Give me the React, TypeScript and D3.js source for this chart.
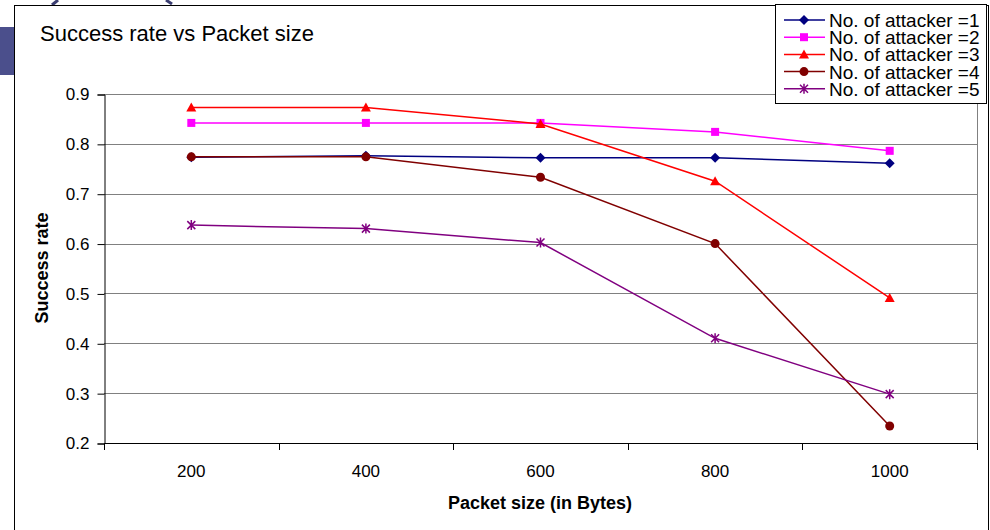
import React, { useEffect, useRef } from "react";
import * as d3 from "d3";

// packet sizes (bytes) and success rate per number of attackers
const packetSizes = ["200", "400", "600", "800", "1000"];
const seriesNames = [
  "No. of attacker =1",
  "No. of attacker =2",
  "No. of attacker =3",
  "No. of attacker =4",
  "No. of attacker =5",
];
const attacker1 = [0.773, 0.776, 0.772, 0.772, 0.761];
const attacker2 = [0.842, 0.842, 0.842, 0.824, 0.786];
const attacker3 = [0.873, 0.873, 0.84, 0.725, 0.491];
const attacker4 = [0.774, 0.774, 0.733, 0.6, 0.234];
const attacker5 = [0.637, 0.63, 0.602, 0.41, 0.298];
const yTicks = [0.2, 0.3, 0.4, 0.5, 0.6, 0.7, 0.8, 0.9];

const colors = ["#000080", "#FF00FF", "#FF0000", "#800000", "#800080"];
const markers = ["diamond", "square", "triangle", "circle", "star"];
const FONT = "'Liberation Sans', Arial, sans-serif";

function drawMarker(g: any, type: string, x: number, y: number, color: string) {
  if (type === "diamond") {
    g.append("path").attr("d", `M${x},${y - 5}L${x + 5},${y}L${x},${y + 5}L${x - 5},${y}Z`).attr("fill", color);
  } else if (type === "square") {
    g.append("rect").attr("x", x - 4).attr("y", y - 4).attr("width", 8).attr("height", 8).attr("fill", color);
  } else if (type === "triangle") {
    g.append("path").attr("d", `M${x},${y - 5}L${x + 5},${y + 4}L${x - 5},${y + 4}Z`).attr("fill", color);
  } else if (type === "circle") {
    g.append("circle").attr("cx", x).attr("cy", y).attr("r", 4.5).attr("fill", color);
  } else {
    g.append("path")
      .attr("d", `M${x - 4},${y - 4}L${x + 4},${y + 4}M${x - 4},${y + 4}L${x + 4},${y - 4}M${x},${y - 5}L${x},${y + 5}`)
      .attr("stroke", color)
      .attr("stroke-width", 1.5)
      .attr("fill", "none");
  }
}

export default function App() {
  const ref = useRef<SVGSVGElement>(null);

  useEffect(() => {
    const svg = d3.select(ref.current);
    svg.selectAll("*").remove();

    const margin = { left: 104, right: 977, top: 94, bottom: 443 };
    const data = [attacker1, attacker2, attacker3, attacker4, attacker5];

    const xScale = d3.scaleBand().domain(packetSizes).range([margin.left, margin.right]).padding(0);
    const yScale = d3.scaleLinear().domain([0.2, 0.9]).range([margin.bottom, margin.top]);
    const cx = (c: string) => (xScale(c) as number) + xScale.bandwidth() / 2;

    // slide decoration behind the chart
    svg.append("rect").attr("x", 0).attr("y", 27).attr("width", 14).attr("height", 48).attr("fill", "#4b4f8c");
    svg.append("path").attr("d", "M52,5L58,0").attr("stroke", "#3a3d70").attr("stroke-width", 3);
    svg.append("path").attr("d", "M166,0L172,4").attr("stroke", "#3a3d70").attr("stroke-width", 3);

    // outer chart frame
    svg.append("rect").attr("x", 14.5).attr("y", 5.5).attr("width", 974).attr("height", 540)
      .attr("fill", "white").attr("stroke", "#000").attr("stroke-width", 1);

    svg.append("text").attr("x", 40).attr("y", 41).attr("font-family", FONT).attr("font-size", 22)
      .text("Success rate vs Packet size");

    // gridlines
    svg.append("g").selectAll("line").data(yTicks.slice(1)).enter().append("line")
      .attr("x1", margin.left).attr("x2", margin.right)
      .attr("y1", (d: number) => Math.round(yScale(d)) + 0.5).attr("y2", (d: number) => Math.round(yScale(d)) + 0.5)
      .attr("stroke", "#808080").attr("stroke-width", 1);
    svg.append("line").attr("x1", margin.right + 0.5).attr("x2", margin.right + 0.5)
      .attr("y1", margin.top).attr("y2", margin.bottom).attr("stroke", "#808080");

    // y axis
    const yAxis = svg.append("g").attr("transform", `translate(${margin.left + 0.5},0.5)`)
      .call(d3.axisLeft(yScale).tickValues(yTicks).tickSize(7).tickPadding(8).tickFormat(d3.format(".1f")));
    yAxis.selectAll("text").attr("font-family", FONT).attr("font-size", 17).attr("fill", "#000");
    yAxis.select(".domain").attr("stroke", "#000");

    // x axis: ticks on category boundaries, labels at centers
    const xg = svg.append("g");
    xg.append("line").attr("x1", margin.left).attr("x2", margin.right + 1)
      .attr("y1", margin.bottom + 0.5).attr("y2", margin.bottom + 0.5).attr("stroke", "#000");
    const bounds = packetSizes.map((c) => xScale(c) as number).concat([margin.right]);
    xg.selectAll(".tick").data(bounds).enter().append("line")
      .attr("x1", (d: number) => Math.round(d) + 0.5).attr("x2", (d: number) => Math.round(d) + 0.5)
      .attr("y1", margin.bottom).attr("y2", margin.bottom + 7).attr("stroke", "#000");
    xg.selectAll("text").data(packetSizes).enter().append("text")
      .attr("x", (d: string) => cx(d)).attr("y", 477).attr("text-anchor", "middle")
      .attr("font-family", FONT).attr("font-size", 17).text((d: string) => d);

    // axis titles
    svg.append("text").attr("x", 540).attr("y", 509).attr("text-anchor", "middle")
      .attr("font-family", FONT).attr("font-size", 18).attr("font-weight", "bold")
      .text("Packet size (in Bytes)");
    svg.append("text").attr("transform", "translate(48,268) rotate(-90)").attr("text-anchor", "middle")
      .attr("font-family", FONT).attr("font-size", 18).attr("font-weight", "bold")
      .text("Success rate");

    // series
    const line = d3.line<number>().x((_, i) => cx(packetSizes[i])).y((d) => yScale(d));
    data.forEach((vals, s) => {
      const g = svg.append("g");
      g.append("path").attr("d", line(vals)).attr("fill", "none").attr("stroke", colors[s]).attr("stroke-width", 1.5);
      vals.forEach((v, i) => drawMarker(g, markers[s], cx(packetSizes[i]), yScale(v), colors[s]));
    });

    // legend
    const lg = svg.append("g");
    lg.append("rect").attr("x", 775.5).attr("y", 4.5).attr("width", 211).attr("height", 99)
      .attr("fill", "white").attr("stroke", "#000");
    seriesNames.forEach((name, s) => {
      const y = 20 + s * 17.2;
      lg.append("line").attr("x1", 784).attr("x2", 825).attr("y1", y).attr("y2", y)
        .attr("stroke", colors[s]).attr("stroke-width", 1.5);
      drawMarker(lg, markers[s], 804, y, colors[s]);
      lg.append("text").attr("x", 829).attr("y", y + 7).attr("font-family", FONT).attr("font-size", 19).text(name);
    });
  }, []);

  return (
    <svg ref={ref} width={990} height={530}
      style={{ position: "absolute", left: 0, top: 0, background: "white" }} />
  );
}
